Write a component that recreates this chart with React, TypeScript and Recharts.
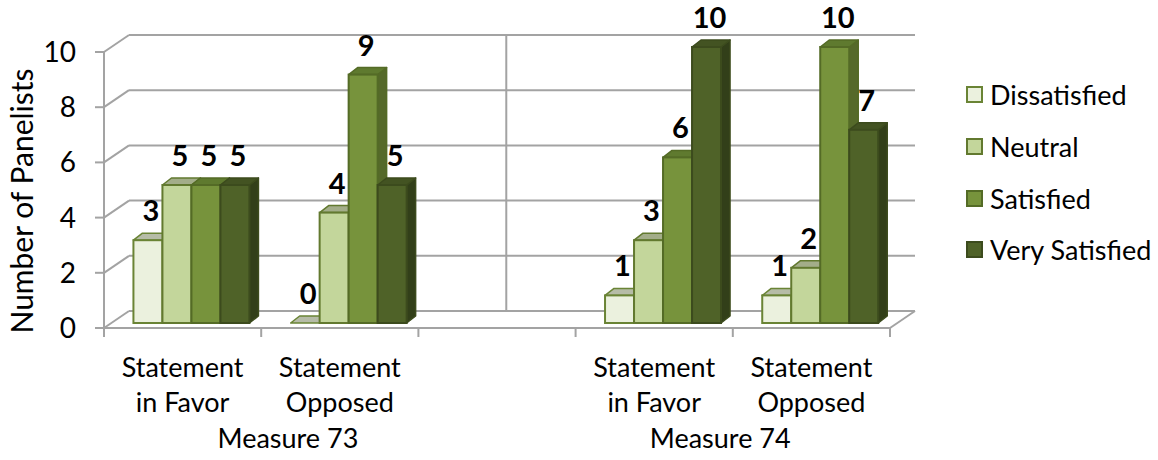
import React from 'react';
import { BarChart, Bar, XAxis, YAxis, CartesianGrid, Legend, LabelList } from 'recharts';

const categories = ['Statement in Favor', 'Statement Opposed', '', 'Statement in Favor', 'Statement Opposed'];
const groupLabels = ['Measure 73', 'Measure 74'];
const seriesNames = ['Dissatisfied', 'Neutral', 'Satisfied', 'Very Satisfied'];
const dissatisfied = [3, 0, null, 1, 1];
const neutral = [5, 4, null, 3, 2];
const satisfied = [5, 9, null, 6, 10];
const verySatisfied = [5, 5, null, 10, 7];
const yTicks = [0, 2, 4, 6, 8, 10];

const data = categories.map((cat, i) => ({
  cat,
  d: dissatisfied[i],
  n: neutral[i],
  s: satisfied[i],
  v: verySatisfied[i],
}));

const FONT = 'Lato, "Open Sans", sans-serif';
const GRID = '#a3a3a3';
const DX = 25, DY = -17; // back wall depth
const BX = 9, BY = -5; // bar front face shift
const TX = 9, TY = -7; // bar depth

const styles = [
  { key: 'd', front: '#EBF1DE', top: '#B6BCA7', side: '#A9B38F', stroke: '#6A8435' },
  { key: 'n', front: '#C3D69B', top: '#A3AD89', side: '#8FA06A', stroke: '#62792F' },
  { key: 's', front: '#77933C', top: '#5F7A2F', side: '#55692A', stroke: '#546B26' },
  { key: 'v', front: '#4F6228', top: '#435322', side: '#323F19', stroke: '#3C4B1D' },
];

const make3D = (st: any) => (props: any) => {
  const { x, y, width, height } = props;
  const v = props.value;
  const raw = Array.isArray(v) ? v[1] : v;
  const pv = props.payload ? props.payload[st.key] : raw;
  if (raw == null || pv == null || x == null || y == null || isNaN(y)) return null;
  const fx = x + BX;
  const fy = y + BY;
  const h = Math.max(height || 0, 0);
  const w = width;
  return (
    <g>
      <polygon
        points={`${fx + w},${fy} ${fx + w + TX},${fy + TY} ${fx + w + TX},${fy + h + TY} ${fx + w},${fy + h}`}
        fill={st.side}
        stroke={st.stroke}
        strokeWidth={1.5}
        strokeLinejoin="round"
      />
      <polygon
        points={`${fx},${fy} ${fx + TX},${fy + TY} ${fx + w + TX},${fy + TY} ${fx + w},${fy}`}
        fill={st.top}
        stroke={st.stroke}
        strokeWidth={1.5}
        strokeLinejoin="round"
      />
      {h > 0.5 && <rect x={fx} y={fy} width={w} height={h} fill={st.front} stroke={st.stroke} strokeWidth={2} />}
    </g>
  );
};

const renderLabel = (props: any) => {
  const vb = props.viewBox || {};
  const x = props.x ?? vb.x;
  const y = props.y ?? vb.y;
  const width = props.width ?? vb.width;
  const value = props.value;
  if (value == null || x == null) return null;
  return (
    <text
      x={x + width / 2 + BX + 3}
      y={y + BY - 19}
      textAnchor="middle"
      fontWeight="bold"
      fontSize={29}
      fontFamily={FONT}
      fill="#000"
    >
      {value}
    </text>
  );
};

const gridLine = (p: any) => {
  const { x1, x2, y1 } = p;
  const pts: number[] = p.horizontalPoints || [];
  const top = pts.length ? Math.min(...pts) : p.y;
  const bottom = pts.length ? Math.max(...pts) : p.y + p.height;
  const by = y1 + DY;
  const isBottom = Math.abs(y1 - bottom) < 0.5;
  const isTop = Math.abs(y1 - top) < 0.5;
  const midX = x1 + 0.48 * (x2 - x1) + DX;
  return (
    <g key={p.key}>
      <line x1={x1} y1={y1} x2={x1 + DX} y2={by} stroke={GRID} strokeWidth={2} />
      <line x1={x1 + DX} y1={by} x2={x2 + DX} y2={by} stroke={GRID} strokeWidth={2} />
      {isBottom && <line x1={x2} y1={y1} x2={x2 + DX} y2={by} stroke={GRID} strokeWidth={2} />}
      {isTop && <line x1={midX} y1={by} x2={midX} y2={bottom + DY} stroke={GRID} strokeWidth={2} />}
    </g>
  );
};

const CatTick = (props: any) => {
  const { x, y, payload } = props;
  const i = payload?.index ?? props.index ?? 0;
  const half = payload?.offset || 78.6;
  const label = categories[i] || '';
  const sp = label.indexOf(' ');
  const l1 = sp > 0 ? label.slice(0, sp) : label;
  const l2 = sp > 0 ? label.slice(sp + 1) : '';
  let group: string | null = null;
  let gx = x;
  if (i === 0) {
    group = groupLabels[0];
    gx = x + 0.67 * 2 * half;
  } else if (i === 3) {
    group = groupLabels[1];
    gx = x + 0.42 * 2 * half;
  }
  const tf = { fontFamily: FONT, fontSize: 27, fill: '#000', textAnchor: 'middle' as const };
  return (
    <g>
      <line x1={x - half} y1={y} x2={x - half} y2={y + 9} stroke={GRID} strokeWidth={2} />
      {i === categories.length - 1 && (
        <line x1={x + half} y1={y} x2={x + half} y2={y + 9} stroke={GRID} strokeWidth={2} />
      )}
      {l1 && <text x={x} y={y + 49} {...tf}>{l1}</text>}
      {l2 && <text x={x} y={y + 84} {...tf}>{l2}</text>}
      {group && <text x={gx} y={y + 120} {...tf}>{group}</text>}
    </g>
  );
};

const YLabel = (props: any) => {
  const vb = props.viewBox || { x: 0, y: 52, width: 104, height: 276 };
  const cx = 33;
  const cy = vb.y + vb.height / 2 + 11;
  return (
    <text
      x={cx}
      y={cy}
      transform={`rotate(-90 ${cx} ${cy})`}
      textAnchor="middle"
      fontFamily={FONT}
      fontSize={30}
      fill="#000"
    >
      Number of Panelists
    </text>
  );
};

const LegendContent = () => (
  <div style={{ fontFamily: FONT, fontSize: 27, color: '#000' }}>
    {seriesNames.map((name, i) => (
      <div key={name} style={{ display: 'flex', alignItems: 'center', height: 51.7 }}>
        <div
          style={{
            width: 13,
            height: 13,
            border: `2px solid ${styles[i].stroke}`,
            background: styles[i].front,
            marginRight: 7,
          }}
        />
        <span style={{ whiteSpace: 'nowrap' }}>{name}</span>
      </div>
    ))}
  </div>
);

export default function App() {
  return (
    <div style={{ position: 'absolute', left: 0, top: 0, width: 1158, height: 460, background: '#fff', fontFamily: FONT }}>
      <BarChart
        width={1158}
        height={460}
        data={data}
        margin={{ top: 52, right: 268, bottom: 0, left: 0 }}
        barCategoryGap="13%"
        barGap={0}
      >
        <CartesianGrid vertical={false} horizontal={gridLine} syncWithTicks />
        <XAxis
          dataKey="cat"
          interval={0}
          height={132}
          tickSize={0}
          tickMargin={0}
          tickLine={false}
          axisLine={{ stroke: GRID, strokeWidth: 2 }}
          tick={<CatTick />}
        />
        <YAxis
          type="number"
          domain={[0, 10]}
          ticks={yTicks}
          width={104}
          tickSize={9}
          tickMargin={19}
          axisLine={{ stroke: GRID, strokeWidth: 2 }}
          tickLine={{ stroke: GRID, strokeWidth: 2 }}
          tick={{ fontSize: 28, fill: '#000', fontFamily: FONT }}
          label={<YLabel />}
        />
        <Legend
          layout="vertical"
          align="center"
          verticalAlign="middle"
          content={<LegendContent />}
          wrapperStyle={{ left: 966, top: 69, width: 190 }}
        />
        {styles.map((st, i) => (
          <Bar
            key={st.key}
            dataKey={st.key}
            name={seriesNames[i]}
            fill={st.front}
            stroke={st.stroke}
            isAnimationActive={false}
            shape={make3D(st)}
          >
            <LabelList dataKey={st.key} content={renderLabel} />
          </Bar>
        ))}
      </BarChart>
    </div>
  );
}
